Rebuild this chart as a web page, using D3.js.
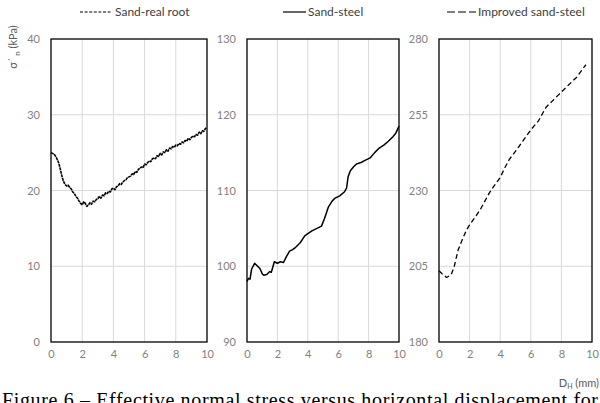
<!DOCTYPE html>
<html><head><meta charset="utf-8">
<script src="https://cdn.jsdelivr.net/npm/d3@7"></script>
<style>body{margin:0;background:#fff}svg{display:block}</style>
</head><body>
<svg id="c" width="600" height="403"></svg>
<script>
// ---------- data ----------
const xTicks = [0, 2, 4, 6, 8, 10];
const rootTicks = [0, 10, 20, 30, 40];
const steelTicks = [90, 100, 110, 120, 130];
const improvedTicks = [180, 205, 230, 255, 280];
const seriesNames = ["Sand-real root", "Sand-steel", "Improved sand-steel"];

const rootX = [0,0.1,0.2,0.3,0.4,0.5,0.6,0.7,0.8,0.9,1.0,1.1,1.2,1.3,1.4,1.5,1.6,1.7,1.8,1.9,2.0,2.1,2.2,2.3,2.4,2.5,2.6,2.7,2.8,2.9,3.0,3.1,3.2,3.3,3.4,3.5,3.6,3.7,3.8,3.9,4.0,4.1,4.2,4.3,4.4,4.5,4.6,4.7,4.8,4.9,5.0,5.1,5.2,5.3,5.4,5.5,5.6,5.7,5.8,5.9,6.0,6.1,6.2,6.3,6.4,6.5,6.6,6.7,6.8,6.9,7.0,7.1,7.2,7.3,7.4,7.5,7.6,7.7,7.8,7.9,8.0,8.1,8.2,8.3,8.4,8.5,8.6,8.7,8.8,8.9,9.0,9.1,9.2,9.3,9.4,9.5,9.6,9.7,9.8,9.9,10.0];
const rootY = [25.0,24.9,24.8,24.5,24.1,23.6,22.8,21.9,21.2,20.8,20.6,20.7,20.4,20.2,19.8,19.6,19.2,19.0,18.6,18.3,18.1,18.5,18.3,17.9,18.1,18.4,18.2,18.6,18.5,18.8,18.9,19.2,19.0,19.4,19.3,19.7,19.6,19.9,19.8,20.2,20.3,20.1,20.5,20.6,20.9,20.8,21.1,21.3,21.4,21.7,21.8,21.9,22.2,22.1,22.5,22.4,22.8,22.9,23.1,23.0,23.5,23.4,23.7,23.9,23.8,24.2,24.3,24.2,24.6,24.5,24.9,24.7,25.1,25.0,25.4,25.2,25.6,25.5,25.8,25.7,26.0,25.9,26.2,26.1,26.4,26.3,26.6,26.5,26.9,26.7,27.0,27.2,27.1,27.4,27.3,27.7,27.5,27.9,27.8,28.2,28.3];

const steelX = [0,0.1,0.2,0.3,0.5,0.7,0.85,1.0,1.1,1.3,1.5,1.6,1.8,2.0,2.2,2.4,2.6,2.8,3.0,3.2,3.5,3.8,4.0,4.3,4.6,4.9,5.1,5.35,5.6,5.8,6.1,6.4,6.55,6.65,6.8,7.0,7.2,7.5,7.8,8.1,8.4,8.7,9.0,9.3,9.6,9.8,10.0];
const steelY = [98.0,98.4,98.3,99.6,100.4,100.0,99.7,99.0,98.8,98.9,99.3,99.2,100.6,100.4,100.6,100.5,101.3,102.0,102.2,102.5,103.1,104.0,104.3,104.7,105.0,105.3,106.3,107.8,108.6,109.0,109.3,109.8,110.3,111.8,112.6,113.1,113.5,113.7,114.0,114.3,115.0,115.6,116.0,116.5,117.1,117.6,118.5];

const improvedX = [0,0.2,0.5,0.8,1.0,1.25,1.5,1.8,2.0,2.4,2.7,3.0,3.3,3.6,4.0,4.3,4.6,5.1,5.5,6.0,6.5,7.0,7.5,8.0,8.5,9.0,9.3,9.6];
const improvedY = [203.5,202.5,201.3,202.2,205.0,210.4,213.5,217.0,218.7,221.5,223.7,226.5,229.3,231.5,234.3,237.5,240.3,243.6,246.5,250.0,253.0,257.5,260.0,262.5,265.0,267.4,269.5,271.5];

// ---------- layout ----------
const svg = d3.select("#c");
const plotTop = 39, plotBottom = 342;
const panels = [
  {x0: 51, x1: 207, ticks: rootTicks, xs: rootX, ys: rootY, dash: "3,0.6", lw: 1.6,
   legend: {lx0: 80, lx1: 112, dash: "3,1.6", tx: 115}},
  {x0: 247, x1: 399, ticks: steelTicks, xs: steelX, ys: steelY, dash: null, lw: 1.5,
   legend: {lx0: 283, lx1: 306, dash: null, tx: 308}},
  {x0: 439, x1: 592, ticks: improvedTicks, xs: improvedX, ys: improvedY, dash: "5,3", lw: 1.3,
   legend: {lx0: 447, lx1: 476, dash: "8,3", tx: 478}}
];
const fontUI = "Lato, 'Open Sans', sans-serif";

panels.forEach((p, i) => {
  const x = d3.scaleLinear().domain([0, 10]).range([p.x0, p.x1]);
  const y = d3.scaleLinear().domain([p.ticks[0], p.ticks[p.ticks.length - 1]]).range([plotBottom, plotTop]);
  const g = svg.append("g");

  // grid
  g.append("g").selectAll("line").data(xTicks.slice(1, -1)).join("line")
    .attr("x1", d => x(d)).attr("x2", d => x(d)).attr("y1", plotTop).attr("y2", plotBottom)
    .attr("stroke", "#d9d9d9").attr("stroke-width", 1);
  g.append("g").selectAll("line").data(p.ticks.slice(1, -1)).join("line")
    .attr("x1", p.x0).attr("x2", p.x1).attr("y1", d => y(d)).attr("y2", d => y(d))
    .attr("stroke", "#d9d9d9").attr("stroke-width", 1);

  // axes (labels only)
  const xa = g.append("g").attr("transform", `translate(0,${plotBottom})`)
    .call(d3.axisBottom(x).tickValues(xTicks).tickSize(0).tickPadding(8));
  xa.select(".domain").remove();
  xa.selectAll("text").attr("fill", "#7f7f7f").style("font-family", fontUI).style("font-size", "11px");

  const ya = g.append("g").attr("transform", `translate(${p.x0},0)`)
    .call(d3.axisLeft(y).tickValues(p.ticks).tickSize(0).tickPadding(11));
  ya.select(".domain").remove();
  ya.selectAll("text").attr("fill", "#7f7f7f").style("font-family", fontUI).style("font-size", "11px");

  // box
  g.append("rect").attr("x", p.x0).attr("y", plotTop).attr("width", p.x1 - p.x0).attr("height", plotBottom - plotTop)
    .attr("fill", "none").attr("stroke", "#000").attr("stroke-width", 1.3);

  // line
  const data = p.xs.map((v, k) => [v, p.ys[k]]);
  const line = d3.line().x(d => x(d[0])).y(d => y(d[1]));
  const path = g.append("path").datum(data).attr("d", line)
    .attr("fill", "none").attr("stroke", "#000").attr("stroke-width", p.lw)
    .attr("stroke-linejoin", "round");
  if (p.dash) path.attr("stroke-dasharray", p.dash);

  // legend
  const L = p.legend;
  const ll = svg.append("line").attr("x1", L.lx0).attr("x2", L.lx1).attr("y1", 12).attr("y2", 12)
    .attr("stroke", "#000").attr("stroke-width", 1.2);
  if (L.dash) ll.attr("stroke-dasharray", L.dash);
  svg.append("text").attr("x", L.tx).attr("y", 16).text(seriesNames[i])
    .attr("fill", "#404040").style("font-family", fontUI).style("font-size", "12px");
});

// y label
const yl = svg.append("text").attr("transform", "translate(17,47) rotate(-90)")
  .attr("text-anchor", "middle").attr("fill", "#595959")
  .style("font-family", fontUI).style("font-size", "11px");
yl.append("tspan").text("σ΄");
yl.append("tspan").attr("dx", 2).attr("dy", 3).style("font-size", "8px").text("n");
yl.append("tspan").attr("dy", -3).text(" (kPa)");

// x label
const xl = svg.append("text").attr("x", 599).attr("y", 387).attr("text-anchor", "end")
  .attr("fill", "#595959").style("font-family", fontUI).style("font-size", "11px");
xl.append("tspan").text("D");
xl.append("tspan").attr("dy", 2).style("font-size", "7px").text("H");
xl.append("tspan").attr("dy", -2).text(" (mm)");

// caption (clipped by the bottom edge, as in the reference)
svg.append("text").attr("x", 2).attr("y", 407)
  .attr("textLength", 596).attr("lengthAdjust", "spacing")
  .attr("fill", "#000").style("font-family", "'Liberation Serif', 'Times New Roman', serif").style("font-size", "20px")
  .text("Figure 6 – Effective normal stress versus horizontal displacement for");
</script>
</body></html>
